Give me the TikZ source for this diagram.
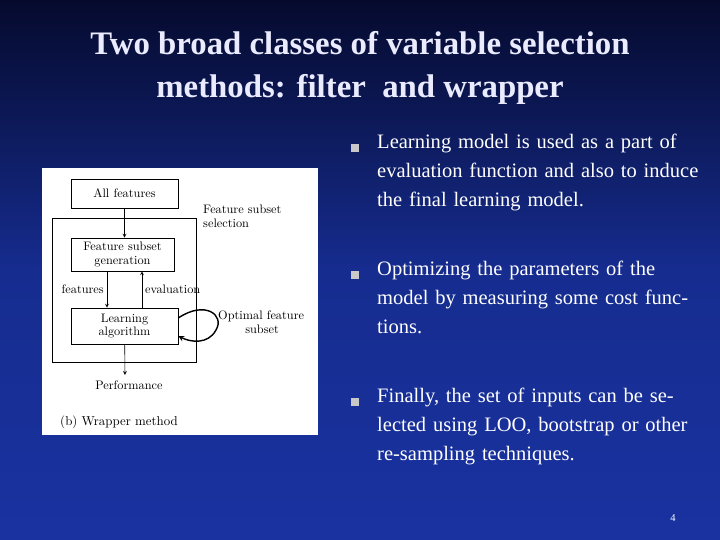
\documentclass[tikz,border=0pt]{standalone}
\usepackage{fontspec}
\setmainfont{Liberation Serif}
\newfontfamily\diagfont{Latin Modern Roman}
\usetikzlibrary{positioning,calc}
\definecolor{slidetop}{RGB}{5,10,45}
\definecolor{slidebot}{RGB}{25,50,160}
\definecolor{bulletgray}{RGB}{200,200,200}
\begin{document}
\begin{tikzpicture}[x=0.03cm, y=-0.03cm, >=stealth,
    box_style/.style={draw=black, line width=0.5pt, fill=white, font=\diagfont\fontsize{10.5}{11.5}\selectfont, align=center, inner sep=0pt},
    lab_style/.style={font=\diagfont\fontsize{10.5}{11.5}\selectfont, align=left, inner sep=0pt},
    bullet_style/.style={text=white, font=\fontsize{17.5}{24.6}\selectfont, align=left, text width=9.9cm, anchor=north west, inner sep=0pt},
    edge_style/.style={draw=black, line width=0.5pt, ->}]
  \shade[top color=slidetop, bottom color=slidebot, middle color=slidebot!85!slidetop] (0,0) rectangle (720,540);
  \useasboundingbox (0,0) rectangle (720,540);

  % title
  \node (title) [text=white!92!blue, font=\fontsize{28}{37}\selectfont, align=center] at (360,68) {\textbf{Two broad classes of variable selection}\\\textbf{methods: filter\ \ and wrapper}};

  % picture
  \fill[white] (42,168) rectangle (318,435);
  \node[box_style, minimum width=107*0.03cm, minimum height=29*0.03cm] (all) at (124.5,193.5) {All features};
  \draw[line width=0.5pt] (52,218) rectangle (196,362);
  \node[box_style, minimum width=103*0.03cm, minimum height=33*0.03cm] (gen) at (122.5,254.5) {Feature subset\\generation};
  \node[box_style, minimum width=107*0.03cm, minimum height=36*0.03cm] (learn) at (124.5,326) {Learning\\algorithm};
  \coordinate (perf_in) at (125,375);
  \node[lab_style] (perf) at (129,385) {Performance};
  \node[lab_style, anchor=north west] (sel) at (203,205) {Feature subset\\selection};
  \node[lab_style, anchor=east] (feat) at (104,289) {features};
  \node[lab_style, anchor=west] (eval) at (145,289) {evaluation};
  \node[lab_style, anchor=north west] (opt) at (218,311) {Optimal feature\\\hspace*{2.2em}subset};
  \node[lab_style, font=\diagfont\fontsize{11}{12}\selectfont] (cap) at (119,422) {(b) Wrapper method};

  \draw[edge_style] (all) -- (all |- gen.north);
  \draw[edge_style] (gen.south -| feat.east) ++(3,0) coordinate (fa) -- (fa |- learn.north);
  \draw[edge_style] (learn.north -| eval.west) ++(-3,0) coordinate (ea) -- (ea |- gen.south);
  \draw[edge_style] (learn) -- (perf_in);
  \draw[line width=1.2pt, ->] (learn.east) ++(0,-8) .. controls (205,300) and (225,315) .. (216,330) .. controls (208,345) and (190,342) .. ($(learn.east)+(0,10)$);

  % bullets
  \foreach \y in {148,275,402} {
    \fill[bulletgray] (351,\y-4) rectangle (359,\y+4);
  }
  \node[bullet_style] (b1) at (377,134) {\raggedright Learning model is used as a part of evaluation function and also to induce the final learning model.};
  \node[bullet_style] (b2) at (377,261) {\raggedright Optimizing the parameters of the model by measuring some cost functions.};
  \node[bullet_style] (b3) at (377,388) {\raggedright Finally, the set of inputs can be selected using LOO, bootstrap or other re-sampling techniques.};
  \node[text=white, font=\fontsize{9}{10}\selectfont] (pg) at (673,518) {4};
\end{tikzpicture}
\end{document}
